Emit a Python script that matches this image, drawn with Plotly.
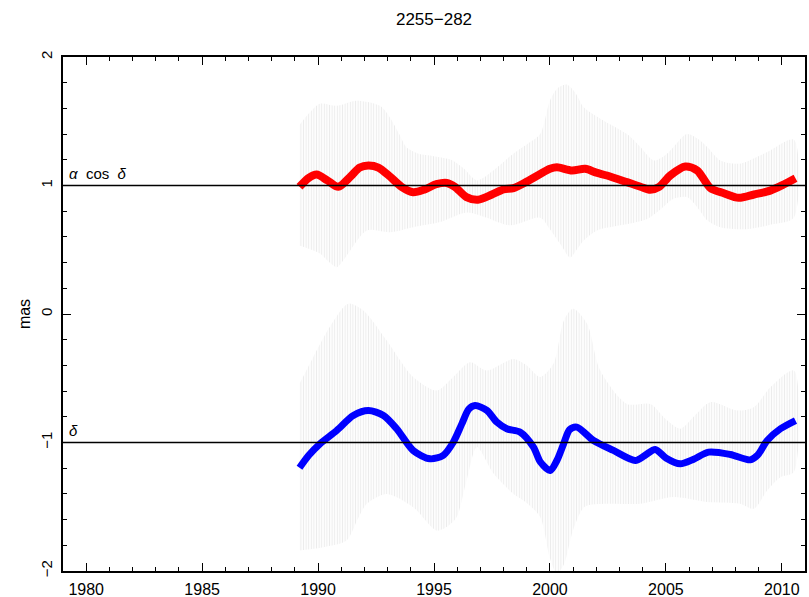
import plotly.graph_objects as go

# Offset time series for source 2255-282 (mas), with uncertainty envelopes
ra_year = [1989.2, 1989.6, 1989.94, 1990.4, 1990.87, 1991.4, 1991.8, 1992.17, 1992.6, 1993.1,
           1993.6, 1994.1, 1994.6, 1995.1, 1995.55, 1995.9, 1996.4, 1996.9, 1997.5, 1998.0,
           1998.43, 1999.0, 1999.58, 2000.0, 2000.3, 2000.95, 2001.52, 2002.0, 2002.46, 2003.32,
           2003.9, 2004.33, 2004.69, 2005.2, 2005.84, 2006.35, 2006.92, 2007.5, 2008.14, 2008.8,
           2009.5, 2010.1, 2010.59]
ra_val = [0.99, 1.06, 1.085, 1.04, 0.99, 1.07, 1.14, 1.156, 1.14, 1.07,
          0.99, 0.948, 0.97, 1.01, 1.02, 0.99, 0.91, 0.89, 0.93, 0.97,
          0.98, 1.03, 1.09, 1.13, 1.142, 1.117, 1.13, 1.10, 1.078, 1.026,
          0.99, 0.966, 0.987, 1.08, 1.148, 1.117, 0.98, 0.94, 0.904, 0.93,
          0.96, 1.01, 1.057]

ra_hi_year = [1989.2, 1989.6, 1990.08, 1990.8, 1991.66, 1992.67, 1993.1, 1993.5, 1993.8, 1994.3,
              1994.83, 1995.8, 1996.3, 1996.85, 1997.56, 1998.43, 1999.0, 1999.58, 2000.0, 2000.35,
              2000.73, 2001.1, 2001.45, 2002.17, 2003.32, 2003.9, 2004.47, 2005.0, 2005.33, 2005.91,
              2006.4, 2006.78, 2007.35, 2008.2, 2009.37, 2010.52]
ra_hi = [1.47, 1.56, 1.636, 1.62, 1.66, 1.62, 1.53, 1.40, 1.30, 1.25,
         1.233, 1.195, 1.13, 1.04, 1.117, 1.25, 1.32, 1.40, 1.66, 1.76,
         1.786, 1.72, 1.61, 1.52, 1.40, 1.30, 1.195, 1.24, 1.30, 1.40,
         1.36, 1.30, 1.195, 1.17, 1.26, 1.356]

ra_lo_year = [1989.2, 1990.08, 1990.5, 1990.8, 1991.1, 1991.37, 1992.1, 1993.1, 1994.1, 1995.26,
              1996.41, 1997.27, 1998.28, 1999.58, 2000.0, 2000.44, 2000.87, 2001.15, 2001.45, 2002.03,
              2003.03, 2004.19, 2004.8, 2005.33, 2005.91, 2006.4, 2006.78, 2007.35, 2008.5, 2009.65,
              2010.52]
ra_lo = [0.533, 0.47, 0.40, 0.364, 0.42, 0.49, 0.65, 0.636, 0.676, 0.715,
         0.79, 0.75, 0.69, 0.75, 0.66, 0.546, 0.44, 0.50, 0.57, 0.65,
         0.69, 0.74, 0.82, 0.897, 0.91, 0.82, 0.73, 0.676, 0.66, 0.70,
         0.75]

de_year = [1989.2, 1989.6, 1990.08, 1990.8, 1991.52, 1992.17, 1992.82, 1993.39, 1994.1, 1994.83,
           1995.4, 1995.83, 1996.2, 1996.5, 1996.77, 1997.28, 1997.7, 1998.14, 1998.72, 1999.29,
           1999.58, 2000.01, 2000.3, 2000.59, 2000.85, 2001.16, 2001.88, 2002.74, 2003.68, 2004.1,
           2004.54, 2005.0, 2005.62, 2006.2, 2006.84, 2007.78, 2008.64, 2008.95, 2009.37, 2009.94,
           2010.59]
de_val = [-1.197, -1.10, -1.01, -0.907, -0.79, -0.751, -0.79, -0.893, -1.062, -1.127,
          -1.10, -0.998, -0.855, -0.74, -0.712, -0.75, -0.84, -0.893, -0.92, -1.036,
          -1.15, -1.218, -1.14, -1.01, -0.90, -0.88, -0.984, -1.062, -1.14, -1.10,
          -1.054, -1.12, -1.166, -1.13, -1.075, -1.093, -1.135, -1.10, -0.984, -0.893,
          -0.829]

de_hi_year = [1989.2, 1989.79, 1990.51, 1991.3, 1991.95, 1992.96, 1994.1, 1995.12, 1995.83, 1996.55,
              1997.28, 1998.43, 1999.0, 1999.58, 2000.15, 2000.6, 2001.0, 2001.6, 2002.17, 2003.32,
              2004.33, 2005.0, 2005.62, 2006.3, 2006.92, 2008.07, 2008.79, 2009.51, 2010.52]
de_hi = [-0.543, -0.336, -0.10, 0.08, 0.027, -0.206, -0.49, -0.595, -0.49, -0.375,
         -0.44, -0.35, -0.40, -0.49, -0.388, -0.05, 0.04, -0.076, -0.44, -0.70,
         -0.70, -0.82, -0.893, -0.78, -0.686, -0.751, -0.725, -0.57, -0.44]

de_lo_year = [1989.2, 1990.22, 1991.23, 1991.7, 1992.1, 1992.96, 1994.1, 1995.12, 1995.6, 1995.98,
              1996.4, 1996.85, 1997.56, 1998.43, 1999.0, 1999.58, 2000.0, 2000.3, 2000.6, 2001.0,
              2001.5, 2002.46, 2003.9, 2005.33, 2006.78, 2008.2, 2008.79, 2009.37, 2009.94, 2010.52]
de_lo = [-1.84, -1.815, -1.763, -1.60, -1.477, -1.40, -1.503, -1.685, -1.65, -1.58,
         -1.30, -1.036, -1.24, -1.40, -1.47, -1.58, -1.90, -2.02, -1.95, -1.68,
         -1.50, -1.477, -1.477, -1.425, -1.464, -1.477, -1.516, -1.374, -1.27, -1.23]

ref_levels = [1, -1]
ref_labels = ["<i>α</i>\u00a0\u00a0cos\u00a0\u00a0<i>δ</i>", "<i>δ</i>"]

FONT = "Liberation Sans, Arial, Helvetica, sans-serif"

fig = go.Figure()


def add_band(xh, yh, xl, yl):
    fig.add_trace(go.Scatter(
        x=list(xh) + list(xl)[::-1],
        y=list(yh) + list(yl)[::-1],
        mode="lines", fill="toself",
        line=dict(width=0, shape="spline", smoothing=0.8),
        fillcolor="rgba(0,0,0,0)",
        fillpattern=dict(shape="|", fgcolor="#d9d9d9", bgcolor="white",
                         size=2.6, solidity=0.4),
        hoverinfo="skip", showlegend=False,
    ))


add_band(ra_hi_year, ra_hi, ra_lo_year, ra_lo)
add_band(de_hi_year, de_hi, de_lo_year, de_lo)

for lvl, lab in zip(ref_levels, ref_labels):
    fig.add_shape(type="line", xref="paper", x0=0, x1=1, yref="y", y0=lvl, y1=lvl,
                  line=dict(color="black", width=1.5), layer="above")
    fig.add_annotation(x=0, xref="paper", y=lvl, yref="y", text=lab, showarrow=False,
                       xanchor="left", yanchor="bottom", xshift=4, yshift=2,
                       font=dict(family=FONT, size=15, color="black"))

fig.add_trace(go.Scatter(x=ra_year, y=ra_val, mode="lines",
                         line=dict(color="#ff0000", width=8, shape="spline", smoothing=0.8),
                         showlegend=False))
fig.add_trace(go.Scatter(x=de_year, y=de_val, mode="lines",
                         line=dict(color="#0000ff", width=7, shape="spline", smoothing=0.8),
                         showlegend=False))

axis_common = dict(
    showline=True, linecolor="black", linewidth=1.5, mirror="ticks",
    ticks="inside", ticklen=8, tickwidth=1.2, tickcolor="black",
    showgrid=False, zeroline=False, automargin=False,
)

fig.update_xaxes(range=[1979, 2011], tick0=1980, dtick=5,
                 minor=dict(dtick=1, ticks="inside", ticklen=4, tickwidth=1.2,
                            tickcolor="black", showgrid=False),
                 tickfont=dict(family=FONT, size=16, color="black"),
                 ticklabelstandoff=3,
                 **axis_common)
fig.update_yaxes(range=[-2, 2], tick0=0, dtick=1, tickangle=-90,
                 minor=dict(dtick=0.2, ticks="inside", ticklen=4, tickwidth=1.2,
                            tickcolor="black", showgrid=False),
                 tickfont=dict(family=FONT, size=15, color="black"),
                 ticklabelstandoff=3,
                 title=dict(text="mas", font=dict(family=FONT, size=16, color="black"),
                            standoff=4),
                 **axis_common)

fig.update_layout(
    width=809, height=597,
    margin=dict(l=63, r=4, t=57, b=26),
    plot_bgcolor="white", paper_bgcolor="white",
    font=dict(family=FONT, size=15, color="black"),
    title=dict(text="2255\u2212282", x=0.5, xref="paper", xanchor="center",
               y=1 - 19 / 597, yref="container", yanchor="middle",
               font=dict(family=FONT, size=17, color="black")),
    showlegend=False,
)

fig.write_html("out.html")
